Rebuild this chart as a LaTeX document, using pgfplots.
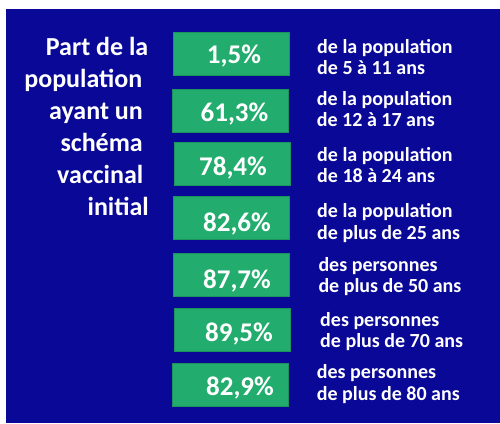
\documentclass[border=0pt]{standalone}
\usepackage{fontspec}
\setmainfont{Carlito}
\usepackage{pgfplots}
\pgfplotsset{compat=1.18}
\usepackage{pgfplotstable}
\definecolor{bgblue}{RGB}{10,8,150}
\definecolor{boxgreen}{RGB}{34,172,110}

% bx,by: box centre; lx,ly: label centre x and baseline y; value in %
\pgfplotstableread{
bx    by    lx    ly     value
230.8 53.3  234.0 63.0   1.5
230.5 110.5 234.5 121.7  61.3
232.5 164.0 233.0 175.0  78.4
231.5 218.0 237.0 231.7  82.6
231.5 274.5 237.0 288.0  87.7
232.5 329.5 239.0 341.7  89.5
230.5 384.5 240.0 395.0  82.9
}\vacc

\newcommand\descline[3]{\node[anchor=base west, inner sep=0pt, text=white, font=\fontsize{20}{24}\selectfont\bfseries] at (axis cs:#1,#2) {#3};}
\newcommand\titleline[3]{\node[anchor=base east, inner sep=0pt, text=white, font=\fontsize{26}{32}\selectfont\bfseries] at (axis cs:#1,#2) {#3};}

\begin{document}
\begin{tikzpicture}
\begin{axis}[
  scale only axis, width=500pt, height=423pt,
  xmin=0, xmax=500, ymin=0, ymax=423, y dir=reverse,
  hide axis, clip=false,
]
\fill[white] (axis cs:0,0) rectangle (axis cs:500,423);
\fill[bgblue] (axis cs:6,9) rectangle (axis cs:500,423);

% green boxes
\addplot[only marks, mark=*, mark size=0pt, mark options={draw=none, fill=none},
  nodes near coords={},
  nodes near coords align={anchor=center},
  every node near coord/.append style={anchor=center, rectangle, fill=boxgreen, draw=boxgreen!85!black, line width=0.4pt,
    minimum width=116pt, minimum height=43pt, inner sep=0pt},
] table[x=bx, y=by] {\vacc};

% values
\addplot[only marks, mark=*, mark size=0pt, mark options={draw=none, fill=none},
  point meta=explicit,
  nodes near coords={\pgfmathprintnumber[fixed, fixed zerofill, precision=1, use comma, assume math mode=true]{\pgfplotspointmeta}\%},
  nodes near coords align={anchor=base},
  every node near coord/.append style={anchor=base, inner sep=0pt, text=white, font=\fontsize{27}{30}\selectfont\bfseries},
] table[x=lx, y=ly, meta=value] {\vacc};

% descriptions
\descline{317}{53.5}{de la population}
\descline{317}{74.8}{de 5 à 11 ans}
\descline{316.7}{105}{de la population}
\descline{316.7}{126.5}{de 12 à 17 ans}
\descline{317}{161.7}{de la population}
\descline{317}{182.8}{de 18 à 24 ans}
\descline{317}{217.7}{de la population}
\descline{317}{239.2}{de plus de 25 ans}
\descline{318.3}{271}{des personnes}
\descline{318.3}{292.6}{de plus de 50 ans}
\descline{320}{326.7}{des personnes}
\descline{320}{347.8}{de plus de 70 ans}
\descline{316.7}{378.5}{des personnes}
\descline{316.7}{400.5}{de plus de 80 ans}

% title
\titleline{148.5}{55}{Part de la}
\titleline{142.5}{87}{population}
\titleline{143}{119}{ayant un}
\titleline{143}{151}{schéma}
\titleline{143.5}{183}{vaccinal}
\titleline{149}{215}{initial}
\end{axis}
\end{tikzpicture}
\end{document}
